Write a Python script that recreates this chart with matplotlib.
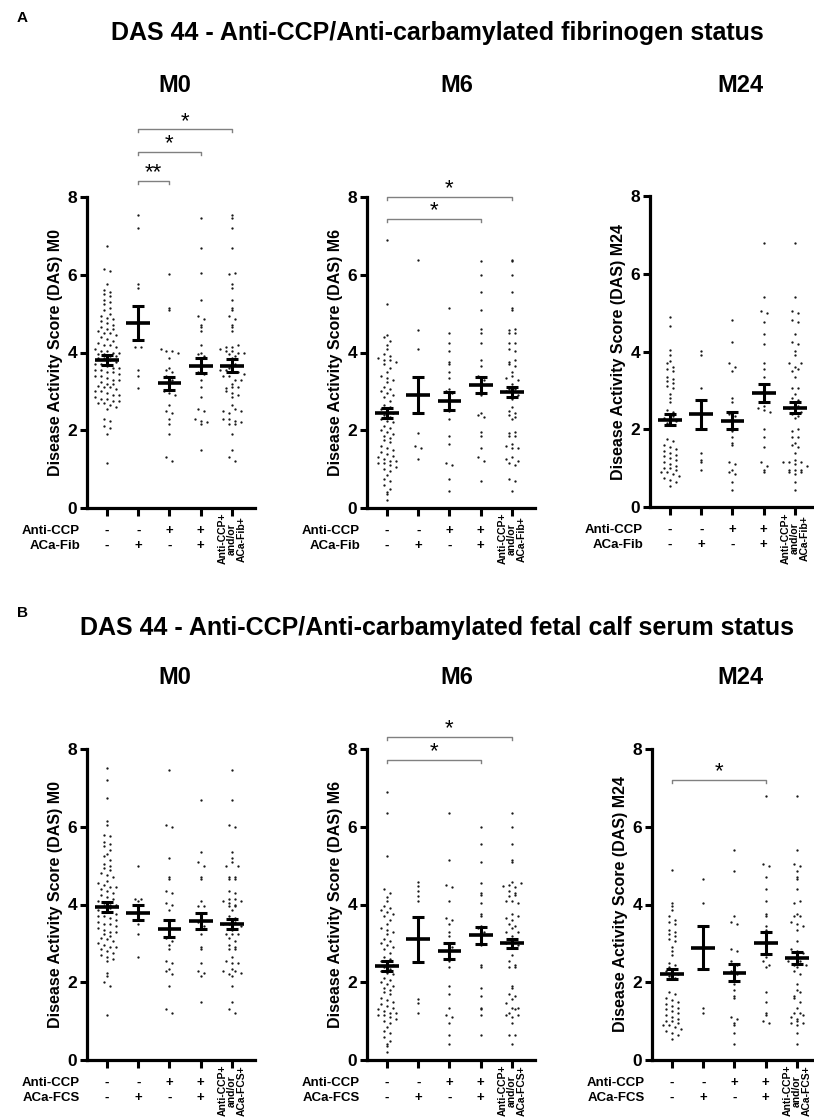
import numpy as np
import matplotlib
matplotlib.use('Agg')
import matplotlib.pyplot as plt
import matplotlib.transforms as mtransforms

plt.rcParams['font.family'] = ['Liberation Sans', 'DejaVu Sans']

W, H = 814, 1119

# ---- DATA (DAS values per group) ----
group_signs_ccp = ['-', '-', '+', '+']
group_signs_aca = ['-', '+', '-', '+']

# Panel A : anti-CCP / anti-carbamylated fibrinogen
a_m0_g1 = [6.75, 6.15, 6.1, 5.75, 5.6, 5.55, 5.5, 5.45, 5.35, 5.3, 5.25, 5.15, 5.1, 5.0, 4.95,
           4.9, 4.85, 4.8, 4.75, 4.7, 4.65, 4.6, 4.6, 4.55, 4.5, 4.5, 4.45, 4.4, 4.35, 4.3, 4.25,
           4.2, 4.2, 4.15, 4.1, 4.05, 4.05, 4.0, 4.0, 3.95, 3.95, 3.9, 3.9, 3.85, 3.85, 3.8, 3.75,
           3.7, 3.7, 3.65, 3.6, 3.6, 3.55, 3.55, 3.5, 3.5, 3.45, 3.4, 3.4, 3.35, 3.3, 3.3, 3.25,
           3.2, 3.2, 3.15, 3.1, 3.1, 3.05, 3.0, 3.0, 2.95, 2.9, 2.9, 2.85, 2.8, 2.8, 2.75, 2.75,
           2.7, 2.7, 2.65, 2.6, 2.55, 2.3, 2.25, 2.1, 2.05, 1.9, 1.15]
a_m0_g2 = [7.54, 7.2, 5.77, 5.65, 4.15, 4.15, 3.55, 3.4, 3.08]
a_m0_g3 = [6.02, 5.15, 5.1, 4.1, 4.05, 4.05, 4.0, 3.85, 3.6, 3.55, 3.5, 3.4, 3.3, 3.2, 3.1,
           3.0, 2.95, 2.9, 2.65, 2.5, 2.45, 2.3, 2.15, 1.9, 1.3, 1.2]
a_m0_g4 = [7.45, 6.7, 6.05, 5.35, 4.95, 4.85, 4.7, 4.65, 4.55, 4.2, 4.0, 3.95, 3.9, 3.7, 3.5,
           3.45, 3.3, 3.1, 2.85, 2.55, 2.5, 2.3, 2.25, 2.2, 2.15, 1.5]

a_m6_g1 = [6.9, 5.25, 4.45, 4.4, 4.3, 4.2, 4.1, 3.95, 3.9, 3.85, 3.8, 3.8, 3.75, 3.7, 3.6,
           3.5, 3.4, 3.35, 3.3, 3.25, 3.1, 3.05, 3.0, 2.95, 2.9, 2.85, 2.75, 2.65, 2.6, 2.55,
           2.5, 2.45, 2.4, 2.35, 2.3, 2.25, 2.2, 2.1, 2.05, 2.0, 1.95, 1.9, 1.85, 1.8, 1.75,
           1.7, 1.6, 1.55, 1.5, 1.45, 1.4, 1.35, 1.3, 1.25, 1.2, 1.2, 1.15, 1.15, 1.1, 1.05,
           1.0, 0.95, 0.85, 0.75, 0.7, 0.6, 0.5, 0.4, 0.35, 0.2]
a_m6_g2 = [6.39, 4.59, 4.1, 1.92, 1.6, 1.55, 1.25]
a_m6_g3 = [5.15, 4.5, 4.25, 4.05, 3.75, 3.7, 3.5, 3.35, 3.05, 3.0, 2.95, 2.8, 2.6, 2.5, 2.3,
           1.85, 1.65, 1.15, 1.1, 0.75, 0.45]
a_m6_g4 = [6.35, 6.0, 5.55, 5.1, 4.6, 4.5, 4.25, 3.8, 3.65, 3.4, 3.3, 3.2, 3.05, 2.9, 2.45,
           2.4, 2.35, 1.95, 1.85, 1.55, 1.3, 1.2, 0.7]

a_m24_g1 = [4.9, 4.65, 4.05, 3.9, 3.75, 3.7, 3.6, 3.55, 3.5, 3.35, 3.3, 3.25, 3.2, 3.1, 3.05,
            2.9, 2.8, 2.7, 2.5, 2.45, 2.4, 2.35, 2.3, 2.25, 2.2, 2.15, 2.1, 1.75, 1.7, 1.6,
            1.55, 1.5, 1.45, 1.4, 1.35, 1.3, 1.25, 1.2, 1.15, 1.1, 1.05, 1.0, 1.0, 0.95, 0.9,
            0.9, 0.85, 0.8, 0.75, 0.7, 0.65, 0.55]
a_m24_g2 = [4.02, 3.92, 3.05, 1.39, 1.2, 1.15, 0.96]
a_m24_g3 = [4.8, 4.25, 3.7, 3.6, 3.5, 2.8, 2.7, 2.4, 2.35, 2.3, 1.95, 1.8, 1.65, 1.6, 1.15,
            1.1, 0.95, 0.9, 0.85, 0.65, 0.45]
a_m24_g4 = [6.8, 5.4, 5.05, 5.0, 4.75, 4.45, 4.2, 3.7, 3.55, 3.35, 3.05, 2.9, 2.75, 2.6, 2.55,
            2.5, 2.45, 2.0, 1.8, 1.55, 1.15, 1.05, 0.95, 0.9]

# Panel B : anti-CCP / anti-carbamylated fetal calf serum
b_m0_g1 = [7.5, 7.2, 6.75, 6.15, 6.05, 5.8, 5.75, 5.6, 5.55, 5.5, 5.4, 5.3, 5.25, 5.15, 5.05,
           5.0, 4.95, 4.9, 4.8, 4.75, 4.7, 4.6, 4.55, 4.5, 4.45, 4.45, 4.4, 4.35, 4.3, 4.25,
           4.2, 4.15, 4.1, 4.05, 4.0, 4.0, 3.95, 3.9, 3.85, 3.8, 3.8, 3.75, 3.7, 3.7, 3.65,
           3.6, 3.55, 3.5, 3.5, 3.45, 3.4, 3.35, 3.3, 3.3, 3.25, 3.2, 3.15, 3.1, 3.05, 3.0,
           2.95, 2.9, 2.9, 2.85, 2.8, 2.75, 2.7, 2.65, 2.6, 2.55, 2.25, 2.15, 2.0, 1.9, 1.15]
b_m0_g2 = [5.0, 4.15, 4.15, 4.1, 3.7, 3.5, 3.25, 2.65]
b_m0_g3 = [7.45, 6.05, 6.0, 5.2, 4.7, 4.65, 4.35, 4.3, 4.05, 4.0, 3.85, 3.5, 3.35, 3.25, 3.15,
           3.05, 2.95, 2.85, 2.55, 2.5, 2.35, 2.3, 2.2, 1.9, 1.3, 1.2]
b_m0_g4 = [6.7, 5.35, 5.1, 5.0, 4.7, 4.65, 4.1, 3.95, 3.95, 3.65, 3.55, 3.45, 3.25, 2.9, 2.85,
           2.5, 2.3, 2.25, 2.15, 1.5]

b_m6_g1 = [6.9, 6.35, 5.25, 4.4, 4.3, 4.2, 4.1, 3.95, 3.9, 3.85, 3.8, 3.75, 3.7, 3.6, 3.5,
           3.4, 3.35, 3.3, 3.25, 3.1, 3.05, 3.0, 2.95, 2.9, 2.85, 2.75, 2.65, 2.6, 2.55, 2.5,
           2.45, 2.4, 2.35, 2.3, 2.25, 2.2, 2.1, 2.05, 2.0, 1.95, 1.9, 1.85, 1.8, 1.75, 1.7,
           1.6, 1.55, 1.5, 1.45, 1.4, 1.35, 1.3, 1.25, 1.2, 1.2, 1.15, 1.15, 1.1, 1.05, 1.0,
           0.95, 0.85, 0.75, 0.7, 0.6, 0.5, 0.4, 0.35, 0.2]
b_m6_g2 = [4.58, 4.47, 4.35, 4.22, 4.09, 1.58, 1.46, 1.22]
b_m6_g3 = [6.35, 5.15, 4.5, 4.45, 4.1, 3.65, 3.6, 3.5, 3.3, 3.2, 3.0, 2.9, 2.7, 2.55, 2.4,
           1.9, 1.7, 1.35, 1.15, 1.1, 0.95, 0.65, 0.4]
b_m6_g4 = [6.0, 5.55, 5.1, 4.55, 4.3, 4.25, 4.05, 3.75, 3.7, 3.45, 3.4, 3.3, 3.1, 2.95, 2.45,
           2.4, 1.85, 1.65, 1.35, 1.3, 1.15, 0.65]

b_m24_g1 = [4.9, 4.05, 3.95, 3.85, 3.7, 3.6, 3.55, 3.5, 3.35, 3.3, 3.25, 3.2, 3.1, 3.05, 2.9,
            2.8, 2.7, 2.5, 2.45, 2.4, 2.35, 2.3, 2.25, 2.2, 2.15, 2.1, 1.75, 1.7, 1.6, 1.55,
            1.5, 1.45, 1.4, 1.35, 1.3, 1.25, 1.2, 1.15, 1.1, 1.05, 1.0, 1.0, 0.95, 0.9, 0.9,
            0.85, 0.8, 0.75, 0.7, 0.65, 0.55]
b_m24_g2 = [4.65, 4.05, 1.35, 1.2]
b_m24_g3 = [5.4, 4.85, 3.7, 3.55, 3.5, 2.85, 2.8, 2.55, 2.45, 2.3, 2.2, 1.95, 1.8, 1.65, 1.6,
            1.1, 1.05, 0.95, 0.9, 0.7, 0.4]
b_m24_g4 = [6.8, 5.05, 5.0, 4.7, 4.4, 4.1, 3.75, 3.7, 3.45, 3.35, 3.05, 2.75, 2.65, 2.55, 2.45,
            2.4, 1.75, 1.5, 1.2, 1.15, 1.0, 0.95]

# mean and SEM per group (5th group = anti-CCP+ and/or ACa+)
a_m0_mean = [3.81, 4.76, 3.21, 3.66, 3.66]
a_m0_sem = [0.12, 0.43, 0.17, 0.20, 0.16]
a_m6_mean = [2.44, 2.91, 2.76, 3.17, 2.98]
a_m6_sem = [0.13, 0.46, 0.23, 0.21, 0.13]
a_m24_mean = [2.24, 2.38, 2.22, 2.93, 2.55]
a_m24_sem = [0.14, 0.37, 0.22, 0.24, 0.14]
b_m0_mean = [3.93, 3.79, 3.38, 3.58, 3.49]
b_m0_sem = [0.13, 0.20, 0.21, 0.20, 0.13]
b_m6_mean = [2.42, 3.10, 2.80, 3.21, 3.00]
b_m6_sem = [0.13, 0.58, 0.20, 0.22, 0.12]
b_m24_mean = [2.21, 2.89, 2.25, 3.00, 2.62]
b_m24_sem = [0.13, 0.55, 0.21, 0.28, 0.15]

# significance brackets: (from group, to group, height, stars)
a_m0_sig = [(1, 2, 8.41, '**'), (1, 3, 9.15, '*'), (1, 4, 9.74, '*')]
a_m6_sig = [(0, 3, 7.43, '*'), (0, 4, 8.0, '*')]
a_m24_sig = []
b_m0_sig = []
b_m6_sig = [(0, 3, 7.72, '*'), (0, 4, 8.31, '*')]
b_m24_sig = [(0, 3, 7.2, '*')]


def swarm(vals, binw=0.14, step=0.19):
    # simple scatter-dot layout: points in the same y row are spread sideways
    vals = np.asarray(vals)
    offs = np.zeros(len(vals))
    rows = np.round(vals / binw)
    for r in np.unique(rows):
        idx = np.where(rows == r)[0]
        k = len(idx)
        offs[idx] = (np.arange(k) - (k - 1) / 2) * step
    return offs


fig = plt.figure(figsize=(W / 100, H / 100), dpi=100)


def draw_panel(left, top, g1, g2, g3, g4, means, sems, sig, ylab, aca_lab, combo_lab):
    ax = fig.add_axes([left / W, 1 - (top + 311) / H, 168 / W, 311 / H])
    groups = [g1, g2, g3, g4, g2 + g3 + g4]
    for i, vals in enumerate(groups):
        ax.scatter(i + swarm(vals), vals, s=2.8, c='#1a1a1a', lw=0, zorder=2)
        ax.plot([i - 0.38, i + 0.38], [means[i], means[i]], color='black', lw=2.6,
                solid_capstyle='butt', zorder=3)
        ax.errorbar(i, means[i], yerr=sems[i], color='black', lw=2.2, capsize=4.5,
                    capthick=2.2, zorder=3)
    ax.set_xlim(-0.64, 4.74)
    ax.set_ylim(0, 8)
    ax.set_yticks([0, 2, 4, 6, 8])
    ax.set_xticks(range(5))
    ax.set_xticklabels([])
    for s in ['top', 'right']:
        ax.spines[s].set_visible(False)
    for s in ['left', 'bottom']:
        ax.spines[s].set_linewidth(2.3)
    ax.tick_params(axis='y', length=5, width=2.2, labelsize=12.5, pad=2)
    ax.tick_params(axis='x', length=6, width=2.2)
    for lab in ax.get_yticklabels():
        lab.set_fontweight('bold')
    ax.set_ylabel(ylab, fontsize=11.5, fontweight='bold', labelpad=3)

    # sign rows under the axis
    tr = mtransforms.blended_transform_factory(ax.transData, ax.transAxes)
    y1, y2 = -23 / 311, -38 / 311
    ax.text(-0.86, y1, 'Anti-CCP', transform=tr, ha='right', va='center',
            fontsize=9.5, fontweight='bold')
    ax.text(-0.86, y2, aca_lab, transform=tr, ha='right', va='center',
            fontsize=9.5, fontweight='bold')
    for i in range(4):
        ax.text(i, y1, group_signs_ccp[i], transform=tr, ha='center', va='center',
                fontsize=9.5, fontweight='bold')
        ax.text(i, y2, group_signs_aca[i], transform=tr, ha='center', va='center',
                fontsize=9.5, fontweight='bold')
    ax.text(4, -5 / 311, combo_lab, transform=tr, rotation=90, ha='center', va='top',
            multialignment='center', fontsize=7.5, fontweight='bold', linespacing=0.95)

    # significance brackets
    for a, b, h, stars in sig:
        ax.plot([a, a, b, b], [h - 0.08, h, h, h - 0.08], color='#808080', lw=1,
                clip_on=False, zorder=1)
        ax.text((a + b) / 2, h - 0.06, stars, ha='center', va='bottom', fontsize=16,
                clip_on=False)
    return ax


# ---- Panel A ----
fig.text(22 / W, 1 - 18 / H, 'A', fontsize=11, fontweight='bold', ha='center', va='center')
fig.text(437 / W, 1 - 33 / H, 'DAS 44 - Anti-CCP/Anti-carbamylated fibrinogen status',
         fontsize=18, fontweight='bold', ha='center', va='center')
for xc, t in [(175, 'M0'), (457, 'M6'), (740, 'M24')]:
    fig.text(xc / W, 1 - 85 / H, t, fontsize=17, fontweight='bold', ha='center', va='center')

combo_a = 'Anti-CCP+\nand/or\nACa-Fib+'
draw_panel(87, 197, a_m0_g1, a_m0_g2, a_m0_g3, a_m0_g4, a_m0_mean, a_m0_sem, a_m0_sig,
           'Disease Activity Score (DAS) M0', 'ACa-Fib', combo_a)
draw_panel(367, 197, a_m6_g1, a_m6_g2, a_m6_g3, a_m6_g4, a_m6_mean, a_m6_sem, a_m6_sig,
           'Disease Activity Score (DAS) M6', 'ACa-Fib', combo_a)
draw_panel(650, 196, a_m24_g1, a_m24_g2, a_m24_g3, a_m24_g4, a_m24_mean, a_m24_sem, a_m24_sig,
           'Disease Activity Score (DAS) M24', 'ACa-Fib', combo_a)

# ---- Panel B ----
fig.text(22 / W, 1 - 613 / H, 'B', fontsize=11, fontweight='bold', ha='center', va='center')
fig.text(437 / W, 1 - 628 / H, 'DAS 44 - Anti-CCP/Anti-carbamylated fetal calf serum status',
         fontsize=18, fontweight='bold', ha='center', va='center')
for xc, t in [(175, 'M0'), (457, 'M6'), (740, 'M24')]:
    fig.text(xc / W, 1 - 677 / H, t, fontsize=17, fontweight='bold', ha='center', va='center')

combo_b = 'Anti-CCP+\nand/or\nACa-FCS+'
draw_panel(87, 749, b_m0_g1, b_m0_g2, b_m0_g3, b_m0_g4, b_m0_mean, b_m0_sem, b_m0_sig,
           'Disease Activity Score (DAS) M0', 'ACa-FCS', combo_b)
draw_panel(367, 749, b_m6_g1, b_m6_g2, b_m6_g3, b_m6_g4, b_m6_mean, b_m6_sem, b_m6_sig,
           'Disease Activity Score (DAS) M6', 'ACa-FCS', combo_b)
draw_panel(652, 749, b_m24_g1, b_m24_g2, b_m24_g3, b_m24_g4, b_m24_mean, b_m24_sem, b_m24_sig,
           'Disease Activity Score (DAS) M24', 'ACa-FCS', combo_b)

fig.savefig('out.png', dpi=100)
